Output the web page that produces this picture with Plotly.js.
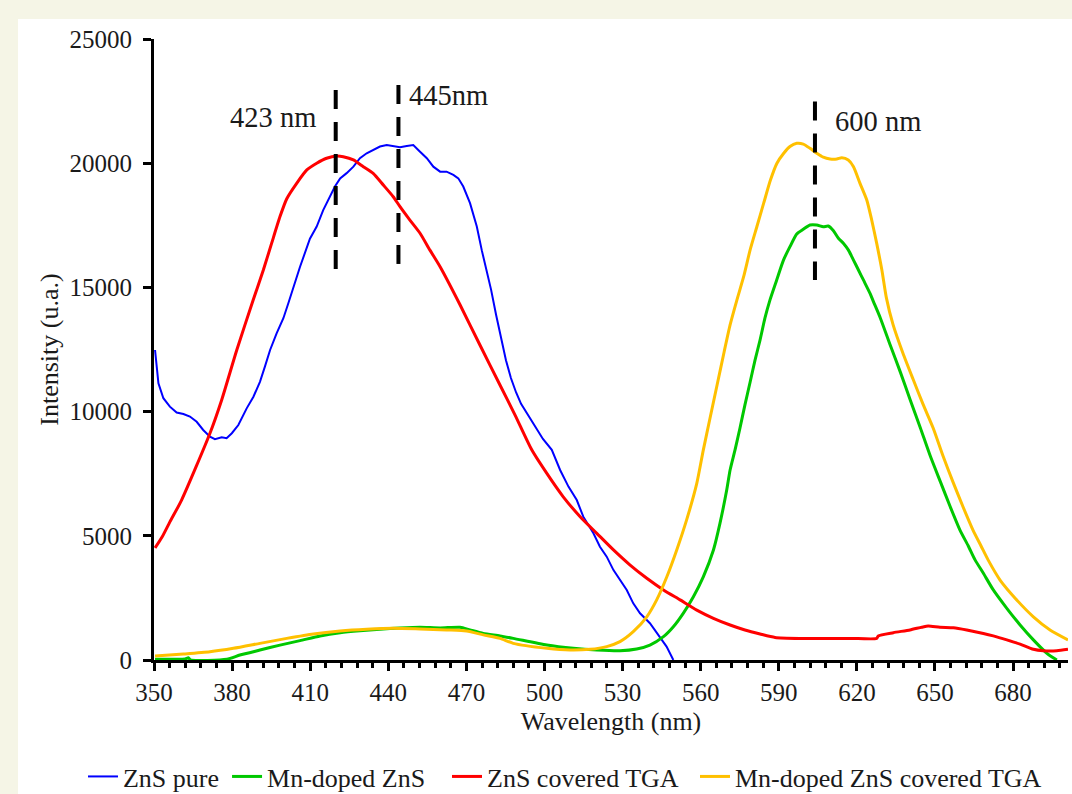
<!DOCTYPE html>
<html><head><meta charset="utf-8">
<script src="https://cdn.plot.ly/plotly-3.0.1.min.js"></script>
<style>html,body{margin:0;padding:0;background:#f5f5e6;} #chart{width:1072px;height:794px;}</style>
</head><body><div id="chart"></div>
<script>
// Series names
const seriesNames = ['ZnS pure', 'Mn-doped ZnS', 'ZnS covered TGA', 'Mn-doped ZnS covered TGA'];

// [wavelength (nm), intensity (u.a.)]
const znsPure = [[350.4,12480],[351.7,11140],[353.6,10540],[356.1,10200],[358.7,9960],[361.3,9900],[363.8,9800],[366.4,9590],[368.9,9260],[371.5,8990],[373.4,8890],[376.0,8970],[377.9,8930],[379.9,9130],[382.4,9460],[385.6,10130],[388.2,10600],[390.7,11200],[392.6,11810],[394.6,12480],[397.1,13150],[399.7,13760],[401.6,14360],[406.1,15830],[409.9,16960],[412.5,17450],[415.0,18110],[417.6,18650],[419.5,19060],[421.5,19390],[424.0,19600],[426.6,19860],[429.1,20200],[431.7,20400],[434.2,20530],[436.8,20670],[439.4,20730],[441.9,20690],[444.5,20640],[447.1,20690],[449.6,20730],[452.2,20460],[454.8,20200],[457.3,19860],[459.9,19660],[462.4,19660],[465.0,19530],[466.9,19390],[468.8,19060],[471.4,18390],[474.0,17450],[475.9,16500],[477.8,15700],[479.5,14900],[481.4,13900],[483.3,12950],[485.2,12070],[487.1,11350],[489.1,10770],[491.0,10310],[493.7,9870],[496.4,9420],[499.4,8900],[502.8,8460],[506.0,7650],[509.2,6980],[512.4,6440],[514.9,5770],[518.8,5100],[521.3,4560],[523.9,4160],[526.5,3620],[529.0,3220],[531.6,2820],[534.1,2280],[536.7,1880],[540.5,1480],[543.1,1080],[546.9,540],[549.5,0]];

const mnDoped = [[350.4,30],[356.0,30],[362.0,40],[363.2,90],[364.0,0],[378.0,30],[383.0,200],[390.7,400],[398.4,600],[406.1,780],[413.8,970],[421.5,1100],[429.1,1180],[436.8,1240],[444.5,1290],[452.2,1320],[459.9,1290],[467.6,1320],[471.4,1210],[476.5,1070],[482.9,970],[488.0,870],[500.9,600],[511.1,470],[520.1,400],[529.0,370],[535.4,440],[540.5,600],[545.7,940],[549.5,1340],[553.3,1880],[557.2,2550],[561.0,3350],[564.9,4430],[567.4,5500],[570.0,6840],[571.3,7650],[573.2,8460],[575.1,9340],[577.0,10270],[579.0,11190],[580.9,12080],[582.8,12880],[584.7,13770],[586.6,14490],[589.2,15300],[591.8,16100],[594.3,16640],[596.9,17150],[599.4,17340],[602.0,17510],[604.6,17510],[607.1,17440],[609.0,17470],[611.0,17280],[612.9,16980],[614.8,16780],[616.7,16510],[618.7,16100],[620.6,15700],[622.5,15300],[625.1,14750],[626.4,14420],[629.0,13770],[632.8,12680],[636.7,11590],[640.5,10470],[644.4,9340],[648.2,8210],[652.1,7170],[655.9,6160],[659.6,5230],[662.8,4590],[665.4,4030],[668.6,3490],[672.4,2820],[677.6,2080],[682.7,1410],[687.8,810],[693.0,270],[696.8,0]];

const znsTGA = [[350.4,4510],[353.1,4950],[356.1,5560],[360.6,6440],[371.5,9130],[376.0,10470],[381.8,12480],[388.1,14490],[392.0,15700],[395.2,16780],[398.4,17850],[401.0,18570],[404.8,19190],[408.7,19730],[412.5,20000],[416.3,20200],[420.2,20290],[422.7,20260],[426.6,20130],[430.4,19860],[434.2,19590],[438.1,19120],[441.9,18650],[444.5,18250],[448.3,17710],[452.2,17180],[456.0,16500],[459.9,15830],[467.6,14290],[475.2,12680],[482.9,11070],[488.7,9860],[495.1,8460],[500.9,7510],[507.2,6570],[513.7,5770],[520.1,5100],[526.5,4430],[532.9,3820],[539.3,3290],[545.7,2820],[552.1,2420],[558.5,2010],[564.9,1680],[571.3,1410],[577.0,1210],[582.8,1050],[588.6,910],[598.2,870],[617.4,870],[627.6,870],[628.2,970],[634.0,1100],[640.4,1210],[644.9,1320],[647.4,1370],[651.9,1320],[657.1,1300],[662.2,1210],[668.6,1070],[672.4,970],[677.6,810],[682.7,640],[687.8,430],[691.6,370],[696.8,370],[701.1,430]];

const mnDopedTGA = [[350.4,160],[361.3,240],[371.5,330],[380.5,470],[390.7,670],[401.0,870],[411.2,1050],[421.5,1170],[431.7,1240],[441.9,1280],[452.2,1250],[462.4,1210],[470.1,1170],[476.5,1010],[482.9,870],[488.0,670],[500.9,470],[509.8,400],[517.5,430],[523.9,540],[529.0,740],[534.1,1140],[539.3,1740],[543.1,2420],[547.0,3350],[550.8,4430],[554.6,5640],[558.5,7110],[561.0,8450],[563.6,9740],[566.3,11070],[569.0,12400],[571.3,13490],[573.9,14490],[576.5,15430],[579.0,16510],[581.6,17450],[584.2,18390],[586.8,19320],[589.3,20000],[591.9,20400],[594.3,20670],[596.9,20800],[599.4,20770],[602.0,20600],[604.6,20400],[607.1,20240],[609.7,20170],[612.3,20170],[614.2,20220],[616.7,20130],[618.7,19860],[621.2,19190],[623.8,18520],[625.7,17710],[627.6,16780],[629.6,15700],[631.3,14600],[633.9,13500],[637.7,12350],[641.6,11300],[645.4,10300],[649.3,9340],[653.1,8210],[656.9,7170],[660.8,6160],[664.6,5230],[667.7,4590],[670.4,4030],[675.0,3220],[681.4,2420],[687.8,1740],[694.2,1210],[701.1,810]];

// Peak markers (dashed lines) and labels
const peakLineX = [419.8, 443.9, 603.9];
const peakLineTop = [22950, 23150, 22480];
const peakLineBottom = [15700, 15900, 15300];
const peakLabels = ['423 nm', '445nm', '600 nm'];
const peakLabelX = [395.7, 463.1, 628.3];
const peakLabelY = [21820, 22710, 21670];

const xTickStart = 350, xMajor = 30, xMinor = 6;
const yMax = 25000, yStep = 5000;

const FONT = '"Liberation Serif", "Times New Roman", serif';
const colors = ['#0000ff', '#00c800', '#ff0000', '#ffc000'];
const widths = [2, 3, 3, 3];
const shapesLine = ['linear', 'spline', 'spline', 'spline'];
const allSeries = [znsPure, mnDoped, znsTGA, mnDopedTGA];
const legendIds = ['legend', 'legend2', 'legend3', 'legend4'];
const legendX = [0.0774, 0.2118, 0.4170, 0.6483];

const traces = allSeries.map((s, i) => ({
  type: 'scatter', mode: 'lines', name: seriesNames[i],
  x: s.map(p => p[0]), y: s.map(p => p[1]),
  line: {color: colors[i], width: widths[i], shape: shapesLine[i], smoothing: 0.6},
  legend: legendIds[i],
  hoverinfo: 'skip'
}));

const shapes = [{
  type: 'rect', xref: 'paper', yref: 'paper',
  x0: -0.1488, x1: 1.02, y0: -0.3, y1: 1.0322,
  fillcolor: '#ffffff', line: {width: 0}, layer: 'below'
}];
peakLineX.forEach((x, i) => shapes.push({
  type: 'line', xref: 'x', yref: 'y',
  x0: x, x1: x, y0: peakLineTop[i], y1: peakLineBottom[i],
  line: {color: '#000', width: 4, dash: '19px,13px'}
}));

const annotations = peakLabels.map((t, i) => ({
  xref: 'x', yref: 'y', x: peakLabelX[i], y: peakLabelY[i],
  text: t, showarrow: false, xanchor: 'center', yanchor: 'middle',
  font: {family: FONT, size: 28.5, color: '#1a1a1a'}
}));

const layout = {
  width: 1072, height: 794,
  margin: {l: 154, r: 4, t: 39, b: 134},
  paper_bgcolor: '#f5f5e6', plot_bgcolor: '#ffffff',
  font: {family: FONT, size: 25, color: '#1a1a1a'},
  showlegend: true,
  xaxis: {
    range: [350, 701.1], tick0: xTickStart, dtick: xMajor,
    ticks: 'outside', ticklen: 8, tickwidth: 3, tickcolor: '#000',
    showline: true, linewidth: 3, linecolor: '#000',
    showgrid: false, zeroline: false,
    minor: {tick0: xTickStart, dtick: xMinor, ticks: 'outside', ticklen: 5, tickwidth: 3, tickcolor: '#000', showgrid: false},
    tickfont: {family: FONT, size: 25, color: '#1a1a1a'},
    title: {text: 'Wavelength (nm)', font: {family: FONT, size: 26, color: '#1a1a1a'}, standoff: 7}
  },
  yaxis: {
    range: [0, yMax], tick0: 0, dtick: yStep, tickformat: 'd',
    ticks: 'outside', ticklen: 8, tickwidth: 3, tickcolor: '#000',
    showline: true, linewidth: 3, linecolor: '#000',
    showgrid: false, zeroline: false,
    ticklabelstandoff: 6,
    tickfont: {family: FONT, size: 25, color: '#1a1a1a'},
    title: {text: 'Intensity (u.a.)', font: {family: FONT, size: 26, color: '#1a1a1a'}, standoff: 4}
  },
  shapes: shapes,
  annotations: annotations
};
legendIds.forEach((id, i) => {
  layout[id] = {orientation: 'h', xref: 'container', yref: 'container',
    x: legendX[i], xanchor: 'left', y: 0.022, yanchor: 'middle',
    font: {family: FONT, size: 26, color: '#1a1a1a'}, bgcolor: 'rgba(0,0,0,0)', borderwidth: 0};
});

Plotly.newPlot('chart', traces, layout, {staticPlot: true, displayModeBar: false});
</script></body></html>
